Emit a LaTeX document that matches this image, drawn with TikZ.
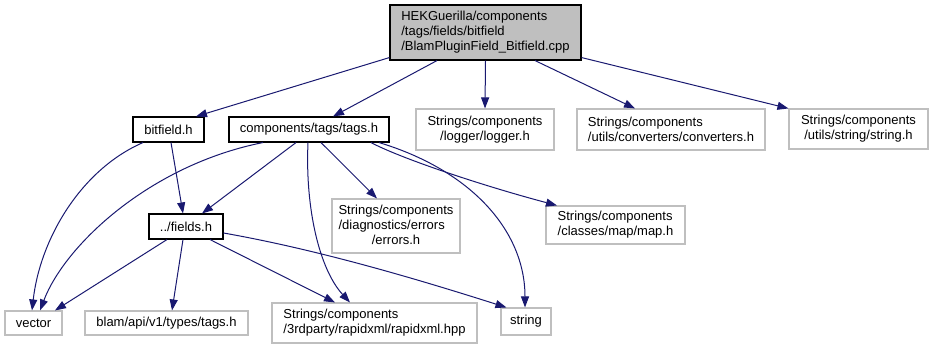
\documentclass[tikz,border=0pt]{standalone}
\usepackage{fontspec}
\setmainfont{Liberation Sans}
\usetikzlibrary{arrows.meta}

\definecolor{edgeblue}{RGB}{25,25,112}
\definecolor{boxgray}{RGB}{191,191,191}

\begin{document}
\begin{tikzpicture}[x=1pt, y=-1pt,
    every node/.style={font=\fontsize{13}{15}\selectfont, inner sep=0pt},
    box/.style={draw=black, line width=1.1pt},
    extbox/.style={draw=boxgray, line width=1.1pt},
    dep/.style={draw=edgeblue, line width=1pt, -{Triangle[length=11pt, width=8pt]}}]
    \useasboundingbox (0,0) rectangle (933,349);

    % Source file
    \node[box, fill=boxgray, align=left, minimum width=191pt, minimum height=55pt] (root) at (485.5,32.5)
        {HEKGuerilla/components\\/tags/fields/bitfield\\/BlamPluginField\_Bitfield.cpp};

    % Second row
    \node[box, minimum width=71pt, minimum height=25pt] (bitfield) at (168.5,129.5) {bitfield.h};
    \node[box, minimum width=160pt, minimum height=25pt] (tags) at (309,129.5) {components/tags/tags.h};
    \node[extbox, align=center, minimum width=138pt, minimum height=41pt] (logger) at (485,129.5)
        {Strings/components\\/logger/logger.h};
    \node[extbox, align=left, minimum width=188pt, minimum height=41pt] (conv) at (671,129.5)
        {Strings/components\\/utils/converters/converters.h};
    \node[extbox, align=center, minimum width=139pt, minimum height=40pt] (strh) at (858.5,129)
        {Strings/components\\/utils/string/string.h};

    % Third row
    \node[box, minimum width=74pt, minimum height=25pt] (fields) at (186,226.5) {../fields.h};
    \node[extbox, minimum width=128pt, minimum height=54pt] (errors) at (396,226)
        {\begin{tabular}{@{}l@{}}Strings/components\\/diagnostics/errors\\\multicolumn{1}{@{}c@{}}{/errors.h}\end{tabular}};
    \node[extbox, align=left, minimum width=139pt, minimum height=38pt] (mapf) at (615.5,225)
        {Strings/components\\/classes/map/map.h};

    % Bottom row
    \node[extbox, minimum width=57pt, minimum height=24pt] (vector) at (33.5,323) {vector};
    \node[extbox, minimum width=163pt, minimum height=24pt] (blam) at (166.5,323) {blam/api/v1/types/tags.h};
    \node[extbox, align=left, minimum width=205pt, minimum height=40pt] (rapid) at (374.5,323)
        {Strings/components\\/3rdparty/rapidxml/rapidxml.hpp};
    \node[extbox, minimum width=50pt, minimum height=27pt] (strng) at (526,321.5) {string};

    % Includes of the source file
    \draw[dep] ([yshift=3pt]root.south west) -- ([xshift=27.5pt]bitfield.north);
    \draw[dep] ([xshift=-48.5pt]root.south) -- ([xshift=24pt]tags.north);
    \draw[dep] (root.south) -- (logger.north);
    \draw[dep] ([xshift=49.5pt]root.south) -- ([xshift=-36pt]conv.north);
    \draw[dep] ([yshift=3pt]root.south east) -- (strh.north west);

    % bitfield.h
    \draw[dep] ([xshift=-25.5pt]bitfield.south) .. controls (80,170) and (40,240) .. ([xshift=-1.5pt]vector.north);
    \draw[dep] ([xshift=2.5pt]bitfield.south) -- ([xshift=-3pt]fields.north);

    % tags.h
    \draw[dep] ([xshift=-46pt]tags.south) .. controls (150,165) and (65,245) .. ([xshift=6.5pt]vector.north);
    \draw[dep] ([xshift=-13pt]tags.south) -- ([xshift=16pt]fields.north);
    \draw[dep] ([xshift=-1pt]tags.south) .. controls (305,210) and (320,270) .. ([xshift=-24.5pt]rapid.north);
    \draw[dep] ([xshift=12pt]tags.south) -- ([xshift=-19pt]errors.north);
    \draw[dep] ([xshift=62pt]tags.south) .. controls (400,158) and (480,185) .. ([xshift=-58.5pt]mapf.north);
    \draw[dep] ([xshift=70pt]tags.south) .. controls (470,170) and (525,230) .. ([xshift=-1pt]strng.north);

    % fields.h
    \draw[dep] ([xshift=-19pt]fields.south) -- ([xshift=21.5pt]vector.north);
    \draw[dep] ([xshift=-3pt]fields.south) -- ([xshift=5.5pt]blam.north);
    \draw[dep] ([xshift=24pt]fields.south) -- ([xshift=-39.5pt]rapid.north);
    \draw[dep] ([yshift=-6.5pt]fields.east) .. controls (320,250) and (420,280) .. ([xshift=6pt]strng.north west);
\end{tikzpicture}
\end{document}
